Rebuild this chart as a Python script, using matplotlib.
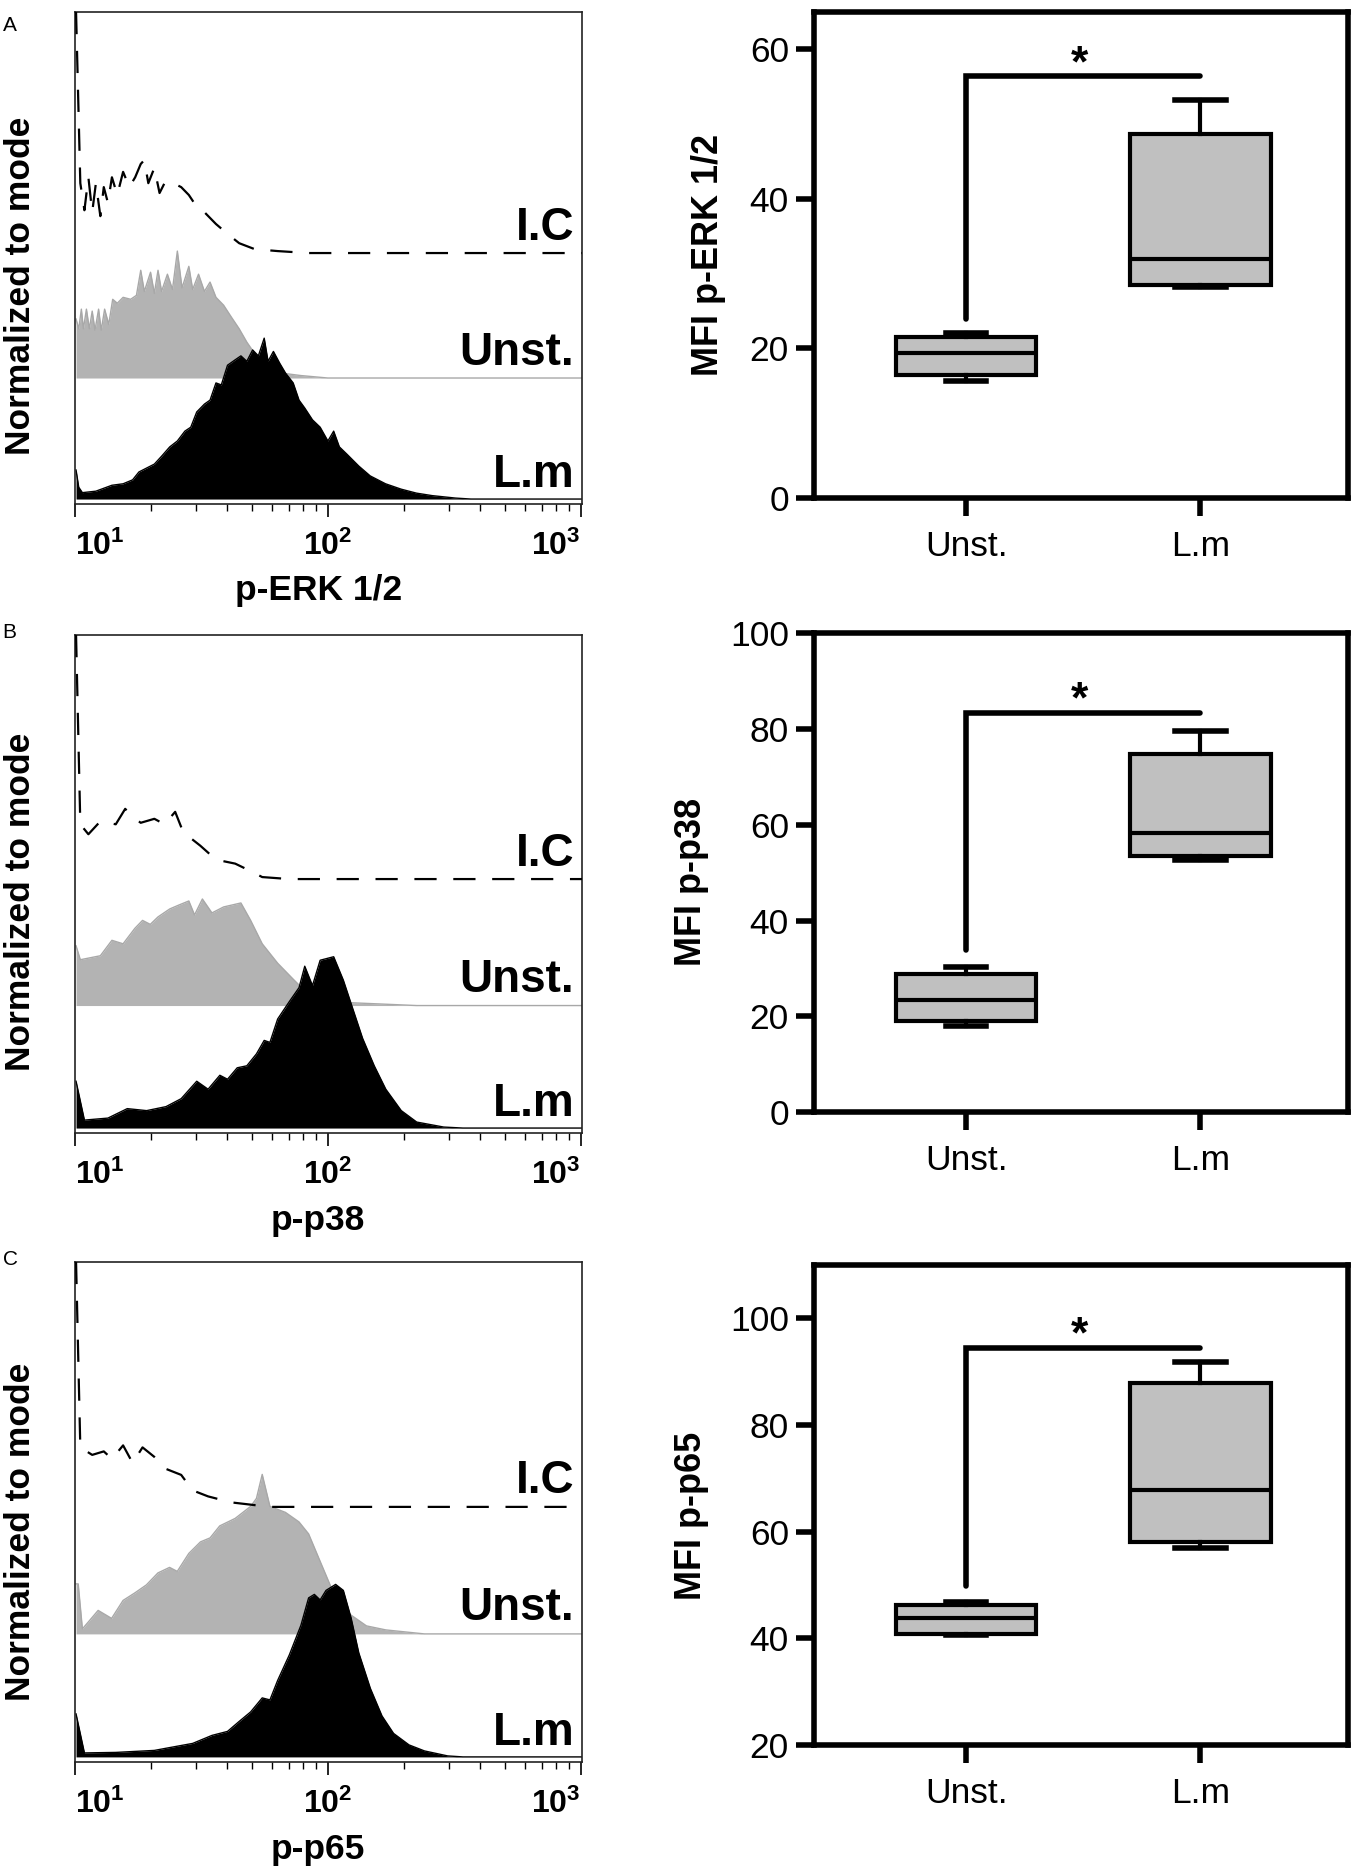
import matplotlib.pyplot as plt
import numpy as np

plt.rcParams['font.family'] = ['Liberation Sans', 'DejaVu Sans']
plt.rcParams['mathtext.fontset'] = 'custom'
plt.rcParams['mathtext.rm'] = 'Liberation Sans'
plt.rcParams['mathtext.bf'] = 'Liberation Sans:bold'

# ---------------- histogram data (intensity, height normalized to mode) ----------------
# panel A: p-ERK 1/2
erk_ic_x = [10.1, 10.5, 10.9, 11.3, 11.7, 12.1, 12.6, 13.0, 13.5, 14.0, 14.7, 15.5, 16.4, 17.3, 18.2, 18.8,
            19.5, 20.6, 21.6, 22.8, 24.5, 26.3, 28.2, 30.3, 32.5, 36.1, 40.1, 44.6, 51.3, 63.3, 83.9, 1050]
erk_ic_y = [0.49, 0.142, 0.087, 0.154, 0.083, 0.142, 0.075, 0.134, 0.102, 0.154, 0.118, 0.165, 0.134, 0.154,
            0.181, 0.189, 0.142, 0.173, 0.122, 0.146, 0.142, 0.134, 0.118, 0.094, 0.083, 0.059, 0.039, 0.020,
            0.008, 0.004, 0.0, 0.0]
erk_un_x = [10.1, 10.35, 10.6, 10.8, 11.1, 11.4, 11.7, 12.0, 12.4, 12.7, 13.1, 13.6, 14.1, 14.7, 15.5, 16.6,
            17.5, 18.2, 18.8, 19.9, 20.6, 21.3, 22.0, 23.2, 24.3, 25.4, 26.5, 28.2, 29.2, 30.8, 32.5, 34.2,
            36.1, 38.7, 41.5, 44.6, 47.8, 51.3, 57.0, 65.6, 78.2, 100, 1050]
erk_un_y = [0.12, 0.10, 0.14, 0.10, 0.14, 0.10, 0.136, 0.097, 0.14, 0.097, 0.14, 0.109, 0.16, 0.152, 0.164,
            0.16, 0.168, 0.219, 0.176, 0.215, 0.172, 0.219, 0.176, 0.211, 0.18, 0.258, 0.183, 0.227, 0.18,
            0.211, 0.176, 0.195, 0.164, 0.148, 0.124, 0.10, 0.073, 0.05, 0.026, 0.01, 0.005, 0.0, 0.0]
erk_lm_x = [10.1, 10.35, 10.7, 12.1, 14.0, 15.5, 16.9, 17.9, 19.2, 20.6, 22.0, 23.7, 25.4, 27.2, 28.7, 30.3,
            32.5, 34.2, 36.1, 37.9, 40.1, 43.0, 45.3, 47.8, 50.4, 53.1, 56.0, 58.0, 60.9, 64.5, 68.0, 72.9,
            76.9, 81.0, 86.9, 93.2, 100, 105.4, 111, 119, 132.5, 147, 169, 195, 224, 258, 319, 368, 1050]
erk_lm_y = [0.059, 0.024, 0.013, 0.016, 0.028, 0.031, 0.039, 0.055, 0.063, 0.071, 0.087, 0.106, 0.118, 0.138,
            0.146, 0.177, 0.193, 0.201, 0.236, 0.232, 0.272, 0.283, 0.291, 0.28, 0.303, 0.291, 0.327, 0.28,
            0.3, 0.276, 0.256, 0.236, 0.201, 0.185, 0.161, 0.146, 0.118, 0.138, 0.106, 0.091, 0.067, 0.047,
            0.031, 0.02, 0.012, 0.007, 0.002, 0.0, 0.0]

# panel B: p-p38
p38_ic_x = [10.1, 10.5, 11.3, 12.6, 14.5, 15.8, 16.9, 18.2, 20.6, 22.6, 24.9, 26.8, 31.3, 36.1, 43.0, 49.5,
            55.0, 70.4, 1050]
p38_ic_y = [0.49, 0.11, 0.09, 0.116, 0.11, 0.141, 0.125, 0.113, 0.121, 0.11, 0.135, 0.094, 0.067, 0.039,
            0.031, 0.016, 0.004, 0.0, 0.0]
p38_un_x = [10.1, 10.5, 12.6, 14.0, 15.5, 17.25, 18.5, 19.85, 21.3, 23.7, 25.8, 28.2, 29.7, 31.9, 34.8, 38.7,
            45.3, 49.5, 55.0, 63.3, 72.9, 83.9, 119, 225, 1050]
p38_un_y = [0.12, 0.092, 0.1, 0.131, 0.124, 0.155, 0.171, 0.163, 0.178, 0.194, 0.202, 0.21, 0.182, 0.214,
            0.186, 0.198, 0.206, 0.171, 0.124, 0.085, 0.053, 0.022, 0.006, 0.0, 0.0]
p38_lm_x = [10.1, 10.9, 13.5, 16.1, 19.2, 22.9, 26.3, 30.3, 33.6, 37.4, 40.1, 43.8, 47.8, 52.2, 56.0, 59.0,
            63.3, 70.4, 76.9, 81.0, 86.9, 93.2, 105.4, 115.1, 123.5, 137.2, 152.5, 169.4, 195, 224.5, 287,
            342, 1050]
p38_lm_y = [0.094, 0.016, 0.02, 0.039, 0.035, 0.043, 0.059, 0.094, 0.078, 0.106, 0.098, 0.121, 0.125, 0.149,
            0.176, 0.172, 0.219, 0.254, 0.282, 0.325, 0.286, 0.337, 0.344, 0.297, 0.25, 0.18, 0.125, 0.078,
            0.035, 0.012, 0.002, 0.0, 0.0]

# panel C: p-p65
p65_ic_x = [10.1, 10.5, 11.7, 13.0, 14.0, 15.5, 16.9, 18.5, 20.6, 22.9, 26.3, 29.2, 33.6, 41.5, 59.0, 1050]
p65_ic_y = [0.49, 0.119, 0.104, 0.111, 0.096, 0.123, 0.088, 0.119, 0.1, 0.076, 0.064, 0.033, 0.021, 0.009,
            0.0, 0.0]
p65_un_x = [10.1, 10.3, 10.7, 11.3, 12.35, 13.96, 15.5, 17.25, 19.16, 21.29, 23.66, 25.38, 28.2, 31.34,
            34.22, 37.36, 43.0, 49.5, 52.19, 55.0, 59.0, 67.95, 76.85, 83.9, 93.2, 103.6, 119.2, 142.1,
            169.4, 240.8, 1050]
p65_un_y = [0.1, 0.1, 0.01, 0.024, 0.047, 0.031, 0.067, 0.082, 0.098, 0.122, 0.133, 0.125, 0.161, 0.184,
            0.192, 0.216, 0.231, 0.255, 0.271, 0.319, 0.255, 0.243, 0.224, 0.2, 0.145, 0.09, 0.043, 0.016,
            0.008, 0.0, 0.0]
p65_lm_x = [10.1, 10.9, 14.5, 20.6, 24.5, 29.2, 34.8, 40.1, 44.6, 49.5, 55.0, 59.0, 63.3, 70.4, 78.2, 83.9,
            88.4, 93.2, 98.3, 107.3, 115.1, 123.5, 132.5, 147.2, 163.6, 181.8, 209.3, 240.8, 297.4, 342, 1050]
p65_lm_y = [0.086, 0.008, 0.009, 0.013, 0.02, 0.027, 0.043, 0.051, 0.071, 0.09, 0.118, 0.114, 0.153, 0.204,
            0.263, 0.318, 0.325, 0.314, 0.333, 0.345, 0.333, 0.278, 0.208, 0.137, 0.082, 0.047, 0.024, 0.012,
            0.002, 0.0, 0.0]

hist_names = ['I.C', 'Unst.', 'L.m']

# ---------------- box plot data (MFI) ----------------
groups = ['Unst.', 'L.m']
erk_med = [19.4, 32.0]
erk_q1 = [16.5, 28.5]
erk_q3 = [21.5, 48.7]
erk_lo = [15.6, 28.2]
erk_hi = [22.0, 53.2]
erk_sig = [23.9, 56.4]   # bracket bottom / top

p38_med = [23.4, 58.2]
p38_q1 = [19.0, 53.4]
p38_q3 = [28.9, 74.8]
p38_lo = [17.9, 52.7]
p38_hi = [30.2, 79.5]
p38_sig = [33.9, 83.4]

p65_med = [43.8, 67.8]
p65_q1 = [40.9, 58.0]
p65_q3 = [46.3, 87.8]
p65_lo = [40.6, 57.0]
p65_hi = [46.9, 91.9]
p65_sig = [49.9, 94.5]

# ---------------- layout ----------------
fig = plt.figure(figsize=(13.53, 18.70), dpi=100)

offsets = [0.51, 0.256, 0.01]   # vertical offsets of the stacked histograms
label_y = [0.537, 0.283, 0.034]


def draw_hist(ax, curves, xlabel, ylab_y):
    (icx, icy), (unx, uny), (lmx, lmy) = curves
    unx, uny = np.array(unx), np.array(uny) + offsets[1]
    lmx, lmy = np.array(lmx), np.array(lmy) + offsets[2]
    icx, icy = np.array(icx), np.array(icy) + offsets[0]
    ax.fill_between(unx, offsets[1], uny, color='#b3b3b3', lw=0, zorder=1)
    ax.plot(unx, uny, color='#a8a8a8', lw=1.0, zorder=1.5)
    ax.fill_between(lmx, offsets[2], lmy, color='black', lw=0, zorder=2)
    ax.plot(lmx, lmy, color='black', lw=1.0, zorder=2.5)
    ax.plot(icx, icy, color='black', lw=1.6, dashes=(10, 7.5), zorder=3)

    ax.set_xscale('log')
    ax.set_xlim(10, 1010)
    ax.set_ylim(0, 1)
    ax.set_yticks([])
    for s in ax.spines.values():
        s.set_linewidth(1.2)
        s.set_color('#222222')
    ax.set_xticks([10, 100, 1000])
    ax.set_xticklabels([r'$\mathbf{10^{1}}$', r'$\mathbf{10^{2}}$', r'$\mathbf{10^{3}}$'], fontsize=23)
    labs = ax.get_xticklabels()
    labs[0].set_ha('left')
    labs[-1].set_ha('right')
    ax.tick_params(axis='x', which='major', direction='out', length=9, width=1.2, pad=10)
    ax.tick_params(axis='x', which='minor', direction='out', length=5, width=1.0)

    for name, y in zip(hist_names, label_y):
        ax.text(0.985, y, name, transform=ax.transAxes, ha='right', va='baseline',
                fontsize=33, fontweight='bold')

    ax.set_ylabel('Normalized to mode', fontsize=25.5, fontweight='bold')
    ax.yaxis.set_label_coords(-0.074, ylab_y)
    ax.set_xlabel(xlabel, fontsize=25.5, fontweight='bold')
    ax.xaxis.label.set_va('center')
    ax.xaxis.set_label_coords(0.48, -0.176)


def draw_box(ax, med, q1, q3, lo, hi, sig, ylim, yticks, ylabel, ylab_x, ylab_y):
    stats = [dict(med=m, q1=a, q3=b, whislo=l, whishi=h, label=g)
             for m, a, b, l, h, g in zip(med, q1, q3, lo, hi, groups)]
    lw = 3.0
    ax.bxp(stats, positions=[1, 2], widths=0.6, capwidths=[0.17, 0.22], showfliers=False,
           patch_artist=True,
           boxprops=dict(facecolor='#c0c0c0', edgecolor='black', linewidth=lw),
           medianprops=dict(color='black', linewidth=lw),
           whiskerprops=dict(color='black', linewidth=lw),
           capprops=dict(color='black', linewidth=lw + 1))
    ax.plot([1, 1, 2], [sig[0], sig[1], sig[1]], color='black', lw=4,
            solid_capstyle='round', solid_joinstyle='miter')
    ax.text(1.485, sig[1], '*', ha='center', va='baseline', fontsize=32, fontweight='bold')

    ax.set_xlim(0.35, 2.63)
    ax.set_ylim(*ylim)
    ax.set_yticks(yticks)
    for s in ax.spines.values():
        s.set_linewidth(4)
    ax.tick_params(axis='both', direction='out', length=13, width=4, labelsize=25.5, pad=5)
    ax.tick_params(axis='x', pad=10)
    ax.set_ylabel(ylabel, fontsize=26, fontweight='bold')
    ax.yaxis.set_label_coords(ylab_x, ylab_y)


left_pos = [[0.0554, 0.7305, 0.3747, 0.2631],
            [0.0554, 0.3941, 0.3747, 0.2663],
            [0.0554, 0.0578, 0.3747, 0.2674]]
right_pos = [[0.6016, 0.7337, 0.3947, 0.2599],
             [0.6016, 0.4053, 0.3947, 0.2561],
             [0.6016, 0.0668, 0.3947, 0.2567]]

axA = fig.add_axes(left_pos[0])
draw_hist(axA, [(erk_ic_x, erk_ic_y), (erk_un_x, erk_un_y), (erk_lm_x, erk_lm_y)], 'p-ERK 1/2', 0.443)
axB = fig.add_axes(left_pos[1])
draw_hist(axB, [(p38_ic_x, p38_ic_y), (p38_un_x, p38_un_y), (p38_lm_x, p38_lm_y)], 'p-p38', 0.464)
axC = fig.add_axes(left_pos[2])
draw_hist(axC, [(p65_ic_x, p65_ic_y), (p65_un_x, p65_un_y), (p65_lm_x, p65_lm_y)], 'p-p65', 0.46)

bxA = fig.add_axes(right_pos[0])
draw_box(bxA, erk_med, erk_q1, erk_q3, erk_lo, erk_hi, erk_sig, (0, 65), [0, 20, 40, 60],
         'MFI p-ERK 1/2', -0.165, 0.5)
bxB = fig.add_axes(right_pos[1])
draw_box(bxB, p38_med, p38_q1, p38_q3, p38_lo, p38_hi, p38_sig, (0, 100), [0, 20, 40, 60, 80, 100],
         'MFI p-p38', -0.197, 0.48)
bxC = fig.add_axes(right_pos[2])
draw_box(bxC, p65_med, p65_q1, p65_q3, p65_lo, p65_hi, p65_sig, (20, 110), [20, 40, 60, 80, 100],
         'MFI p-p65', -0.197, 0.477)

# panel letters
fig.text(0.002, 1 - 31 / 1870, 'A', fontsize=15, va='baseline')
fig.text(0.002, 1 - 638 / 1870, 'B', fontsize=15, va='baseline')
fig.text(0.002, 1 - 1265 / 1870, 'C', fontsize=15, va='baseline')

plt.savefig('out.png', dpi=100)
